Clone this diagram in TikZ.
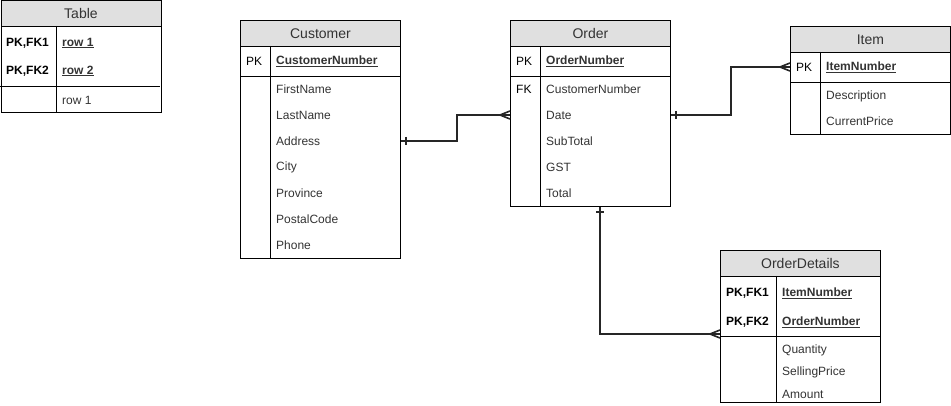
\documentclass[tikz,border=0pt]{standalone}
\usepackage{fontspec}
\setmainfont{Liberation Sans}
\usetikzlibrary{positioning}
\definecolor{hgray}{RGB}{224,224,224}
\definecolor{tgray}{RGB}{51,51,51}
\newcommand{\keyname}[1]{\underline{\textbf{#1}}}
\tikzset{
  ertable/.style={draw,line width=0.9pt,minimum width=160pt,inner sep=0pt,anchor=north west},
  erhead/.style={ertable,fill=hgray,minimum height=26pt,text=tgray,font=\fontsize{14}{16}\selectfont},
  ercol/.style={anchor=west,inner sep=0pt,font=\fontsize{12}{14}\selectfont},
  erkey/.style={ercol,text=black},
  erfield/.style={ercol,text=tgray},
  rel/.style={line width=2pt,black!85},
  relmark/.style={line width=1.6pt,black!85},
}

\begin{document}
\begin{tikzpicture}[x=1pt,y=-1pt]
    \useasboundingbox (0,0) rectangle (951,406);
    % legend table
    \node[ertable,minimum height=111.5pt] (tab) at (0.5,0.5) {};
    \node[erhead] (tab-h) at (0.5,0.5) {Table};
    \draw[line width=0.9pt] (56,26) -- (56,112);
    \draw[line width=0.9pt] (0,86) -- (160,86);
    \node[erkey] (t-k1) at (6,43) {\textbf{PK,FK1}};
    \node[erfield] (t-r1) at (62,43) {\keyname{row 1}};
    \node[erkey] (t-k2) at (6,71) {\textbf{PK,FK2}};
    \node[erfield] (t-r2) at (62,71) {\keyname{row 2}};
    \node[erfield] (t-r3) at (62,100) {row 1};
    % Customer
    \node[ertable,minimum height=238pt] (customer) at (240,20) {};
    \node[erhead] (customer-h) at (240,20) {Customer};
    \draw[line width=0.9pt] (270,46) -- (270,258);
    \draw[line width=0.9pt] (240,76) -- (400,76);
    \node[erkey] (c-pk) at (246,61) {PK};
    \node[erfield] (c-CustomerNumber) at (276,61) {\keyname{CustomerNumber}};
    \foreach \f [count=\i from 0] in {FirstName,LastName,Address,City,Province,PostalCode,Phone}
      \node[erfield] (c-\f) at (276,{89+26*\i}) {\f};
    % Order
    \node[ertable,minimum height=186pt] (order) at (510,20) {};
    \node[erhead] (order-h) at (510,20) {Order};
    \draw[line width=0.9pt] (540,46) -- (540,206);
    \draw[line width=0.9pt] (510,76) -- (670,76);
    \node[erkey] (o-pk) at (516,61) {PK};
    \node[erfield] (o-OrderNumber) at (546,61) {\keyname{OrderNumber}};
    \node[erkey] (o-fk) at (516,89) {FK};
    \foreach \f [count=\i from 0] in {CustomerNumber,Date,SubTotal,GST,Total}
      \node[erfield] (o-\f) at (546,{89+26*\i}) {\f};
    % Item
    \node[ertable,minimum height=108pt] (item) at (790,26) {};
    \node[erhead] (item-h) at (790,26) {Item};
    \draw[line width=0.9pt] (820,52) -- (820,134);
    \draw[line width=0.9pt] (790,82) -- (950,82);
    \node[erkey] (i-pk) at (796,67) {PK};
    \node[erfield] (i-ItemNumber) at (826,67) {\keyname{ItemNumber}};
    \foreach \f [count=\i from 0] in {Description,CurrentPrice}
      \node[erfield] (i-\f) at (826,{96+25*\i}) {\f};
    % OrderDetails
    \node[ertable,minimum height=152pt] (details) at (720,250) {};
    \node[erhead] (details-h) at (720,250) {OrderDetails};
    \draw[line width=0.9pt] (776,276) -- (776,402);
    \draw[line width=0.9pt] (720,336) -- (880,336);
    \node[erkey] (d-k1) at (726,293) {\textbf{PK,FK1}};
    \node[erfield] (d-ItemNumber) at (782,293) {\keyname{ItemNumber}};
    \node[erkey] (d-k2) at (726,322) {\textbf{PK,FK2}};
    \node[erfield] (d-OrderNumber) at (782,322) {\keyname{OrderNumber}};
    \foreach \f [count=\i from 0] in {Quantity,SellingPrice,Amount}
      \node[erfield] (d-\f) at (782,{350+22*\i}) {\f};
    % relations
    \coordinate (c-out) at (customer.east |- c-Address);
    \coordinate (o-in) at (order.west |- o-Date);
    \draw[rel] (c-out) -- ++(56,0) |- (o-in);
    \draw[relmark] (c-out) ++(5,-4) -- ++(0,8);
    \draw[relmark] (o-in) ++(-10,0) -- ++(10,-4) (o-in) ++(-10,0) -- ++(10,4);
    \coordinate (o-out) at (order.east |- o-Date);
    \coordinate (i-in) at (item.west |- i-ItemNumber);
    \draw[rel] (o-out) -- ++(60,0) |- (i-in);
    \draw[relmark] (o-out) ++(5,-4) -- ++(0,8);
    \draw[relmark] (i-in) ++(-10,0) -- ++(10,-4) (i-in) ++(-10,0) -- ++(10,4);
    \coordinate (o-down) at ([xshift=10pt]order.south);
    \coordinate (d-in) at ([yshift=-84pt]details.north west);
    \draw[rel] (o-down) |- (d-in);
    \draw[relmark] (o-down) ++(-4,5) -- ++(8,0);
    \draw[relmark] (d-in) ++(-10,0) -- ++(10,-4) (d-in) ++(-10,0) -- ++(10,4);
\end{tikzpicture}
\end{document}
